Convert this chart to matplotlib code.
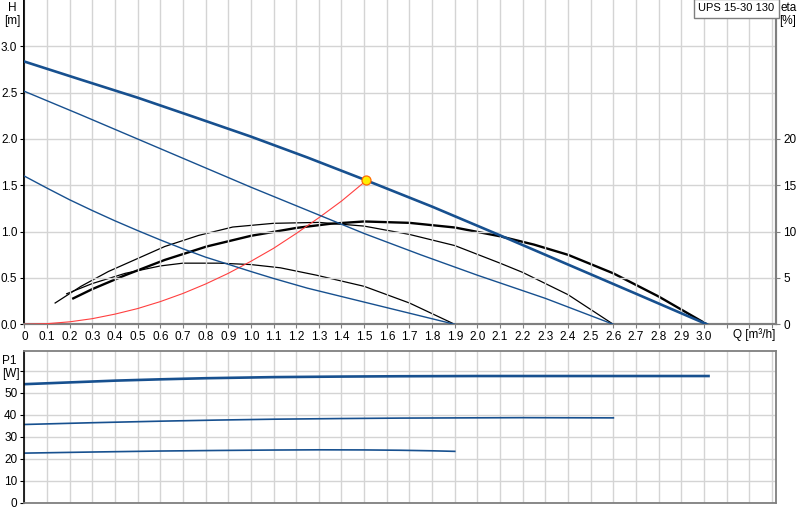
import matplotlib
matplotlib.use('Agg')
import matplotlib.pyplot as plt
from matplotlib.ticker import FixedLocator

plt.rcParams['font.family'] = ['Liberation Sans', 'DejaVu Sans']
plt.rcParams['font.size'] = 8.5

# pump curves H(Q), three speeds
q_h3 = [0, 0.25, 0.5, 0.75, 1.0, 1.25, 1.51, 1.8, 2.1, 2.4, 2.7, 3.013]
h_3 = [2.836, 2.64, 2.446, 2.237, 2.026, 1.80, 1.553, 1.27, 0.96, 0.645, 0.33, 0]
q_h2 = [0, 0.25, 0.5, 0.75, 1.0, 1.25, 1.5, 1.75, 2.0, 2.3, 2.6]
h_2 = [2.515, 2.26, 2.0, 1.74, 1.48, 1.23, 0.98, 0.75, 0.53, 0.28, 0]
q_h1 = [0, 0.1, 0.2, 0.3, 0.4, 0.5, 0.6, 0.7, 0.8, 0.9, 1.0, 1.1, 1.25, 1.4, 1.55, 1.7, 1.9]
h_1 = [1.60, 1.47, 1.344, 1.228, 1.117, 1.012, 0.911, 0.815, 0.725, 0.648, 0.57,
       0.495, 0.39, 0.30, 0.21, 0.12, 0]

# efficiency curves eta(Q) [%]
q_e3 = [0.216, 0.3, 0.445, 0.62, 0.805, 1.0, 1.2, 1.35, 1.5, 1.7, 1.9, 2.1, 2.25,
        2.4, 2.6, 2.8, 3.013]
eta_3 = [2.8, 3.8, 5.3, 6.95, 8.4, 9.55, 10.4, 10.85, 11.1, 10.95, 10.45, 9.5, 8.6,
         7.5, 5.5, 3.0, 0]
q_e2 = [0.136, 0.25, 0.371, 0.5, 0.62, 0.77, 0.92, 1.1, 1.3, 1.5, 1.7, 1.9, 2.1,
        2.2, 2.4, 2.6]
eta_2 = [2.3, 4.1, 5.7, 7.1, 8.4, 9.6, 10.5, 10.9, 11.0, 10.6, 9.7, 8.5, 6.6,
         5.6, 3.2, 0]
q_e1 = [0.187, 0.3, 0.445, 0.6, 0.7, 0.86, 1.0, 1.13, 1.29, 1.5, 1.7, 1.9]
eta_1 = [3.3, 4.4, 5.5, 6.3, 6.6, 6.6, 6.45, 6.1, 5.3, 4.1, 2.3, 0]

# system curve and duty point
q_sys = [0, 0.1, 0.2, 0.3, 0.4, 0.5, 0.6, 0.7, 0.8, 0.9, 1.0, 1.1, 1.2, 1.3, 1.4, 1.51]
h_sys = [0, 0.007, 0.027, 0.061, 0.11, 0.17, 0.245, 0.333, 0.435, 0.55, 0.68,
         0.82, 0.98, 1.15, 1.33, 1.553]
duty_q = 1.51
duty_h = 1.553

# power input P1(Q) [W]
q_p3 = [0, 0.2, 0.4, 0.6, 0.8, 1.1, 1.4, 1.66, 2.0, 2.3, 3.02]
p_3 = [53.8, 54.6, 55.4, 56.0, 56.5, 57.0, 57.25, 57.4, 57.5, 57.5, 57.5]
q_p2 = [0, 0.3, 0.6, 0.85, 1.1, 1.4, 1.66, 2.2, 2.6]
p_2 = [35.5, 36.3, 37.0, 37.5, 37.9, 38.2, 38.4, 38.6, 38.5]
q_p1 = [0, 0.3, 0.6, 0.85, 1.1, 1.3, 1.5, 1.66, 1.8, 1.9]
p_1 = [22.5, 23.0, 23.45, 23.7, 23.9, 24.0, 23.95, 23.8, 23.55, 23.3]

x_labels = ['0'] + [f'{i / 10:.1f}' for i in range(1, 31)] + ['', '', '']
h_ticks = [0, 0.5, 1.0, 1.5, 2.0, 2.5, 3.0]
eta_ticks = [0, 5, 10, 15, 20]
p_ticks = [0, 10, 20, 30, 40, 50, 60]

blue = '#17508f'
grid_c = '#d4d4d4'
spine_grey = '#7f7f7f'

fig = plt.figure(figsize=(8, 5.2), dpi=100)
ax = fig.add_axes([0.0304, 0.3763, 0.9402, 0.6237])
ax2 = ax.twinx()
axp = fig.add_axes([0.0304, 0.0333, 0.9402, 0.2923])

xt = [i / 10 for i in range(34)]

# ---- top panel
ax.set_xlim(0, 3.32)
ax.set_ylim(0, 3.5)
ax2.set_ylim(0, 35)
ax.xaxis.set_major_locator(FixedLocator(xt))
ax.set_xticklabels(x_labels)
ax.set_yticks(h_ticks)
ax.set_yticklabels([f'{v:.1f}' for v in h_ticks])
ax2.set_yticks(eta_ticks)
ax.grid(True, color=grid_c, lw=1)
ax.set_axisbelow(True)
ax.tick_params(axis='x', length=3, color=spine_grey, pad=2)
ax.tick_params(axis='y', length=3, pad=2)
ax2.tick_params(axis='y', length=3, color=spine_grey, pad=2)
for a in (ax, ax2):
    a.spines['top'].set_visible(False)
    a.spines['bottom'].set_color(spine_grey)
    a.spines['bottom'].set_linewidth(1.5)
    a.spines['right'].set_color(spine_grey)
    a.spines['right'].set_linewidth(1.5)
    a.spines['left'].set_color('black')
    a.spines['left'].set_linewidth(1.2)

ax.plot(q_sys, h_sys, color='#ff4040', lw=0.8, zorder=3)
ax.plot(q_h1, h_1, color=blue, lw=1.0, zorder=4)
ax.plot(q_h2, h_2, color=blue, lw=1.0, zorder=4)
ax.plot(q_h3, h_3, color=blue, lw=1.9, zorder=4)
ax2.plot(q_e1, eta_1, color='black', lw=0.9)
ax2.plot(q_e2, eta_2, color='black', lw=0.9)
ax2.plot(q_e3, eta_3, color='black', lw=1.7)
ax.plot([duty_q], [duty_h], 'o', ms=6.5, mfc='#ffee00', mec='#ff6a00', mew=0.9, zorder=6)
ax.set_zorder(ax2.get_zorder() + 1)
ax.patch.set_visible(False)

fig.text(0.015, 0.997, 'H', ha='center', va='top')
fig.text(0.015, 0.972, '[m]', ha='center', va='top')
fig.text(0.986, 0.997, 'eta', ha='center', va='top')
fig.text(0.985, 0.972, '[%]', ha='center', va='top')
ax.text(3.22, -0.045, 'Q [m³/h]', ha='center', va='top', transform=ax.transData)
ax.text(0.9975, 0.99, 'UPS 15-30 130', ha='right', va='top', transform=ax.transAxes,
        fontsize=8, bbox=dict(boxstyle='square,pad=0.4', fc='white', ec=spine_grey, lw=1))

# ---- bottom panel
axp.set_xlim(0, 3.32)
axp.set_ylim(0, 69)
axp.xaxis.set_major_locator(FixedLocator(xt))
axp.set_xticklabels([])
axp.tick_params(axis='x', length=0)
axp.set_yticks(p_ticks)
axp.set_yticklabels([str(v) for v in p_ticks[:-1]] + [''])
axp.tick_params(axis='y', length=3, pad=2)
axp.grid(True, color=grid_c, lw=1)
axp.set_axisbelow(True)
for s in ('top', 'right', 'bottom'):
    axp.spines[s].set_color(spine_grey)
    axp.spines[s].set_linewidth(1.3)
axp.spines['left'].set_color('black')
axp.spines['left'].set_linewidth(1.2)

axp.plot(q_p3, p_3, color=blue, lw=1.9)
axp.plot(q_p2, p_2, color=blue, lw=1.2)
axp.plot(q_p1, p_1, color=blue, lw=1.2)

fig.text(0.012, 0.318, 'P1', ha='center', va='top')
fig.text(0.014, 0.293, '[W]', ha='center', va='top')

fig.savefig('out.png', dpi=100)
